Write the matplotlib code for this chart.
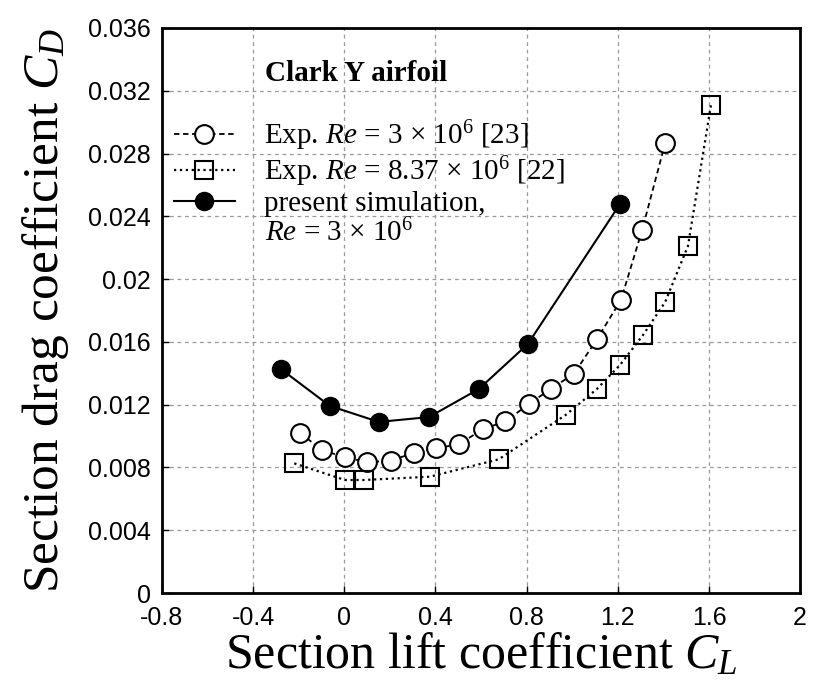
import matplotlib
matplotlib.use("Agg")
from matplotlib import pyplot as plt

plt.rcParams['mathtext.fontset'] = 'custom'
plt.rcParams['mathtext.rm'] = 'Liberation Serif'
plt.rcParams['mathtext.it'] = 'Liberation Serif:italic'

# Exp. Re = 3e6 [23]
cl_exp23 = [-0.194, -0.097, 0.003, 0.101, 0.205, 0.306, 0.404, 0.505, 0.607, 0.707,
            0.809, 0.907, 1.007, 1.109, 1.214, 1.307, 1.408]
cd_exp23 = [0.0102, 0.0091, 0.00865, 0.00833, 0.00843, 0.00894, 0.00922, 0.00949, 0.01043, 0.01094,
            0.01202, 0.01302, 0.01395, 0.01618, 0.01867, 0.02313, 0.02867]

# Exp. Re = 8.37e6 [22]
cl_exp22 = [-0.219, 0.003, 0.086, 0.376, 0.678, 0.973, 1.110, 1.210, 1.311, 1.408, 1.508, 1.609]
cd_exp22 = [0.00826, 0.0072, 0.0072, 0.00741, 0.00852, 0.01136, 0.01302, 0.01453, 0.01644, 0.01854,
            0.02211, 0.0311]

# present simulation
cl_sim = [-0.278, -0.063, 0.152, 0.372, 0.591, 0.806, 1.21]
cd_sim = [0.01427, 0.01192, 0.0109, 0.01121, 0.0130, 0.01587, 0.02479]

xticks = [-0.8, -0.4, 0, 0.4, 0.8, 1.2, 1.6, 2]
xtick_labels = ["-0.8", "-0.4", "0", "0.4", "0.8", "1.2", "1.6", "2"]
yticks = [0, 0.004, 0.008, 0.012, 0.016, 0.02, 0.024, 0.028, 0.032, 0.036]
ytick_labels = ["0", "0.004", "0.008", "0.012", "0.016", "0.02", "0.024", "0.028", "0.032", "0.036"]

fig = plt.figure(figsize=(8.3, 6.93), dpi=100)
ax = fig.add_axes([0.195, 0.1443, 0.769, 0.8153])

ax.plot(cl_exp23, cd_exp23, 'k--', lw=1.3, marker='o', ms=13.5, mfc='white', mec='black',
        mew=1.5, dashes=(3, 2), label=r'Exp. $Re$ = 3 $\times$ 10$^6$ [23]', zorder=3)
ax.plot(cl_exp22, cd_exp22, 'k:', lw=1.6, marker='s', ms=13, mfc='none', mec='black',
        mew=1.5, label=r'Exp. $Re$ = 8.37 $\times$ 10$^6$ [22]', zorder=3)
ax.plot(cl_sim, cd_sim, 'k-', lw=1.5, marker='o', ms=13, mfc='black', mec='black',
        label='present simulation,', zorder=4)

ax.set_xlim(-0.8, 2)
ax.set_ylim(0, 0.036)
ax.set_xticks(xticks)
ax.set_xticklabels(xtick_labels, fontname='Liberation Sans', fontsize=18)
ax.set_yticks(yticks)
ax.set_yticklabels(ytick_labels, fontname='Liberation Sans', fontsize=18)
ax.tick_params(direction='in', length=5, width=1)
ax.tick_params(axis='x', pad=9)
ax.tick_params(axis='y', pad=8)
ax.grid(True, ls=(0, (3, 3)), color='#999999', lw=0.9)
for s in ax.spines.values():
    s.set_linewidth(2)

ax.set_xlabel(r'Section lift coefficient $C_L$', fontname='Liberation Serif', fontsize=36,
              labelpad=2)
ax.set_ylabel(r'Section drag coefficient $C_D$', fontname='Liberation Serif', fontsize=37,
              labelpad=12)

ax.text(0.161, 0.92, 'Clark Y airfoil', transform=ax.transAxes, fontname='Liberation Serif',
        fontweight='bold', fontsize=21, va='center', ha='left')

leg = ax.legend(loc='upper left', bbox_to_anchor=(0.0, 0.86), frameon=False,
                handlelength=2.1, handletextpad=1.0, borderaxespad=0.0,
                prop={'family': 'Liberation Serif', 'size': 21}, labelspacing=0.05)

# second line of the simulation label
ax.text(0.161, 0.637, r'$Re$ = 3 $\times$ 10$^6$', transform=ax.transAxes,
        fontname='Liberation Serif', fontsize=21, va='center', ha='left')

fig.savefig('out.png', dpi=100)
